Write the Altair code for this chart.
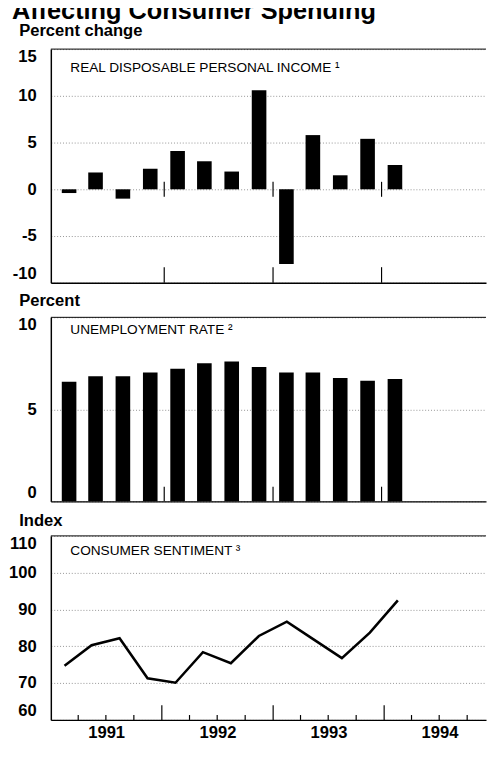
import altair as alt
import pandas as pd

# ---------------- data ----------------
quarters = ["1991 Q1", "1991 Q2", "1991 Q3", "1991 Q4",
            "1992 Q1", "1992 Q2", "1992 Q3", "1992 Q4",
            "1993 Q1", "1993 Q2", "1993 Q3", "1993 Q4",
            "1994 Q1"]
income_change = [-0.4, 1.8, -1.0, 2.2, 4.1, 3.0, 1.9, 10.6, -8.0, 5.8, 1.5, 5.4, 2.6]
unemployment = [6.5, 6.8, 6.8, 7.0, 7.2, 7.5, 7.6, 7.3, 7.0, 7.0, 6.7, 6.55, 6.65]
sentiment = [74.7, 80.3, 82.2, 71.3, 70.1, 78.4, 75.4, 82.8, 86.7, 81.8, 76.8, 83.7, 92.5]

year_ticks = ["1992-01-01", "1993-01-01", "1994-01-01"]
quarter_ticks = ["1991-04-01", "1991-07-01", "1991-10-01",
                 "1992-04-01", "1992-07-01", "1992-10-01",
                 "1993-04-01", "1993-07-01", "1993-10-01",
                 "1994-04-01", "1994-07-01", "1994-10-01"]
year_labels = [1991, 1992, 1993, 1994]

chart_title = ["Affecting Consumer Spending"]
unit_titles = ["Percent change", "Percent", "Index"]
panel_titles = ["REAL DISPOSABLE PERSONAL INCOME \u00b9",
                "UNEMPLOYMENT RATE \u00b2",
                "CONSUMER SENTIMENT \u00b3"]
income_ticks = [-10, -5, 0, 5, 10, 15]
unemp_ticks = [0, 5, 10]
sent_ticks = [60, 70, 80, 90, 100, 110]


def mid_quarter(q):
    y, n = q.split(" Q")
    return f"{y}-{3 * (int(n) - 1) + 2:02d}-15"


df = pd.DataFrame({
    "quarter": quarters,
    "date": [mid_quarter(q) for q in quarters],
    "income": income_change,
    "unemp": unemployment,
    "sent": sentiment,
})
yt = pd.DataFrame({"date": year_ticks})
qt = pd.DataFrame({"date": quarter_ticks})

FONT = "Liberation Sans"
W = 447
H1, H2, H3 = 240, 189, 189
GAP = 35.5

x_scale = alt.Scale(domain=[alt.DateTime(year=1991, month=1, date=1, utc=True),
                            alt.DateTime(year=1994, month=12, date=2, utc=True)])

x_plain = alt.Axis(labels=False, ticks=False, tickSize=0, grid=False, title=None,
                   domainColor="black", domainWidth=1.3)
x_years = alt.Axis(values=[alt.DateTime(year=y, month=7, date=2, utc=True) for y in year_labels],
                   format="%Y", labels=True, ticks=False, tickSize=0, grid=False, title=None,
                   labelFont=FONT, labelFontSize=17, labelFontWeight="bold", labelColor="black",
                   labelPadding=5, labelFlush=False, labelOverlap=False,
                   domainColor="black", domainWidth=1.5)


def yaxis(values, title, ty):
    return alt.Axis(values=values, title=title, titleAngle=0, titleAlign="left",
                    titleBaseline="alphabetic", titleX=-33, titleY=ty,
                    titleFont=FONT, titleFontSize=17, titleFontWeight="bold", titleColor="black",
                    labelFont=FONT, labelFontSize=17, labelFontWeight="bold", labelColor="black",
                    labelExpr="'' + datum.value",
                    labelPadding=15, labelFlush=True, ticks=False, tickSize=0,
                    domainColor="black", domainWidth=1.5,
                    grid=True, gridColor="#777777", gridDash=[1, 2], gridWidth=0.8,
                    minExtent=40, maxExtent=40)


def label_layer(text, xpix, ypix, size=14, weight="normal"):
    return alt.Chart(pd.DataFrame({"t": [text]})).mark_text(
        align="left", baseline="alphabetic", font=FONT, fontSize=size,
        fontWeight=weight, color="black"
    ).encode(text="t:N", x=alt.value(xpix), y=alt.value(ypix))


def top_border(value, ysc, yax):
    return alt.Chart(pd.DataFrame({"v": [value]})).mark_rule(color="black", strokeWidth=1).encode(
        y=alt.Y("v:Q", scale=ysc, axis=yax))


def tick_layer(frame, ysc, yax, xax, y_from, y2_enc, width=1.2):
    return alt.Chart(frame).mark_rule(color="black", strokeWidth=width).encode(
        x=alt.X("date:T", scale=x_scale, axis=xax),
        y=alt.YDatum(y_from, scale=ysc, axis=yax),
        y2=y2_enc)


# ---------------- panel 1: real disposable personal income ----------------
ys1 = alt.Scale(domain=[-10, 15], nice=False, zero=False)
ya1 = yaxis(income_ticks, unit_titles[0], -14)
p1 = alt.layer(
    alt.Chart(df).mark_bar(color="black", size=15).encode(
        x=alt.X("date:T", scale=x_scale, axis=x_plain),
        y=alt.Y("income:Q", scale=ys1, axis=ya1),
    ),
    top_border(income_ticks[-1], ys1, ya1),
    tick_layer(yt, ys1, ya1, x_plain, -0.8, alt.datum(0.8)),
    tick_layer(yt, ys1, ya1, x_plain, income_ticks[0], alt.value(H1 - 16)),
    label_layer(panel_titles[0], 20, 24),
    label_layer(chart_title[0], -40, -31, size=26, weight="bold"),
).properties(width=W, height=H1)

# ---------------- panel 2: unemployment rate ----------------
ys2 = alt.Scale(domain=[0, 10], nice=False)
ya2 = yaxis(unemp_ticks, unit_titles[1], -12.5)
p2 = alt.layer(
    alt.Chart(df).mark_bar(color="black", size=15).encode(
        x=alt.X("date:T", scale=x_scale, axis=x_plain),
        y=alt.Y("unemp:Q", scale=ys2, axis=ya2),
    ),
    top_border(unemp_ticks[-1], ys2, ya2),
    tick_layer(yt, ys2, ya2, x_plain, unemp_ticks[0], alt.value(H2 - 15)),
    label_layer(panel_titles[1], 20, 17),
).properties(width=W, height=H2)

# ---------------- panel 3: consumer sentiment ----------------
ys3 = alt.Scale(domain=[60, 110], nice=False, zero=False)
ya3 = yaxis(sent_ticks, unit_titles[2], -11)
p3 = alt.layer(
    alt.Chart(df).mark_line(color="black", strokeWidth=2.6).encode(
        x=alt.X("date:T", scale=x_scale, axis=x_years),
        y=alt.Y("sent:Q", scale=ys3, axis=ya3),
    ),
    top_border(sent_ticks[-1], ys3, ya3),
    tick_layer(yt, ys3, ya3, x_years, sent_ticks[0], alt.value(H3 - 15)),
    tick_layer(qt, ys3, ya3, x_years, sent_ticks[0], alt.value(H3 - 5)),
    label_layer(panel_titles[2], 20, 20),
).properties(width=W, height=H3)

chart = alt.vconcat(p1, p2, p3, spacing=GAP, bounds="flush").properties(
    padding={"left": 0, "right": 0, "top": -19.8, "bottom": -3},
).configure(font=FONT, background="white").configure_view(stroke=None)

chart.save("out.html", embed_options={"renderer": "svg", "actions": False})
